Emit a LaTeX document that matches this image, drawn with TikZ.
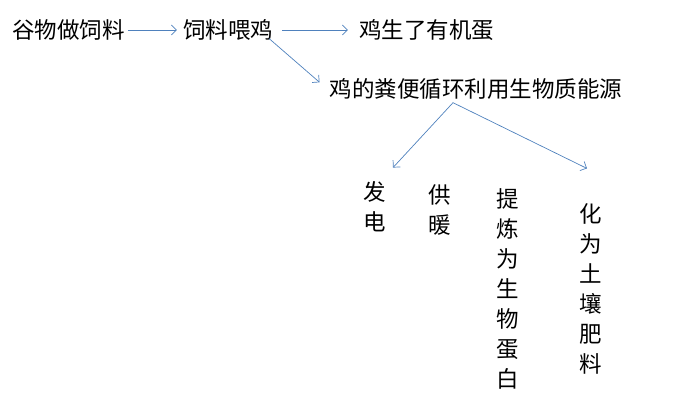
\documentclass[tikz,border=0pt]{standalone}
\usepackage{fontspec}
\usepackage{tikz}
\usetikzlibrary{arrows.meta,positioning,calc}
\newfontfamily\cjk{Noto Sans CJK SC}
\definecolor{accent}{RGB}{79,129,189}
\tikzset{
  stage/.style={inner sep=3pt, font=\cjk\fontsize{22.5}{30}\selectfont},
  vstage/.style={stage, align=center},
  flow/.style={accent, line width=0.7pt, -{Straight Barb[length=5pt,width=10pt]}}
}

\begin{document}
\begin{tikzpicture}[x=1pt,y=-1pt]
\useasboundingbox (0,0) rectangle (681,406);
\node[stage] (grain) at (68.5,30) {谷物做饲料};
\node[stage] (feed) at (228,30) {饲料喂鸡};
\node[stage] (eggs) at (426.5,30) {鸡生了有机蛋};
\node[stage] (manure) at (476,89) {鸡的粪便循环利用生物质能源};
\node[vstage] (power) at (375,207) {发\\电};
\node[vstage] (heat) at (440,210) {供\\暖};
\node[vstage] (protein) at (508,289) {提\\炼\\为\\生\\物\\蛋\\白};
\node[vstage] (fertilizer) at (591,289) {化\\为\\土\\壤\\肥\\料};
\coordinate (split) at ([xshift=-23pt]manure.south);
\draw[flow, shorten >=3pt] (grain) -- (feed);
\draw[flow, shorten <=6pt, shorten >=8pt] (feed) -- (eggs);
\draw[flow] ([xshift=-7pt,yshift=5pt]feed.south east) -- ([xshift=-7pt,yshift=-7pt]manure.north west);
\draw[flow] (split) -- ([xshift=18pt,yshift=11pt]power.north);
\draw[flow] (split) -- ([xshift=-4pt,yshift=32pt]fertilizer.north);
\end{tikzpicture}
\end{document}
